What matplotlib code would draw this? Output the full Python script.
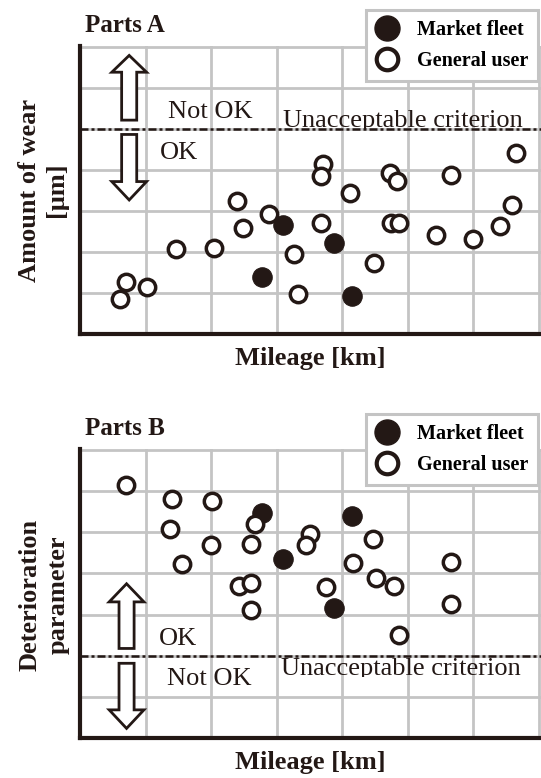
import matplotlib
matplotlib.use('Agg')
import matplotlib.pyplot as plt
from matplotlib.patches import FancyArrow
from matplotlib.lines import Line2D
from matplotlib.transforms import Bbox, TransformedBbox

plt.rcParams['font.family'] = ['Liberation Serif', 'DejaVu Serif']
INK = '#231815'
GRID = '#c4c4c4'

# ---------------- data ----------------
a_user_x = [0.705, 0.615, 1.02, 1.47, 2.05, 2.40, 2.48, 2.88, 3.26, 3.32, 3.70, 3.67, 3.67,
            4.12, 4.49, 4.72, 4.83, 4.75, 4.87, 5.43, 5.65, 6.00, 6.41, 6.59, 6.65]
a_user_y = [1.25, 0.85, 1.13, 2.07, 2.09, 3.23, 2.58, 2.92, 1.94, 0.97, 4.14, 3.84, 2.69,
            3.42, 1.71, 3.93, 3.73, 2.69, 2.71, 2.41, 3.88, 2.31, 2.62, 3.14, 4.40]
a_fleet_x = [3.10, 3.87, 2.77, 4.15]
a_fleet_y = [2.66, 2.20, 1.39, 0.91]

b_user_x = [0.705, 1.40, 2.01, 1.38, 2.00, 1.56, 2.67, 2.61, 2.43, 2.61, 2.61, 3.51, 3.45,
            3.75, 4.47, 4.17, 4.51, 4.79, 4.86, 5.66, 5.66]
b_user_y = [6.15, 5.81, 5.75, 5.07, 4.70, 4.22, 5.21, 4.72, 3.70, 3.77, 3.11, 4.95, 4.70,
            3.67, 4.83, 4.26, 3.89, 3.70, 2.50, 4.28, 3.27]
b_fleet_x = [2.77, 4.15, 3.10, 3.87]
b_fleet_y = [5.47, 5.39, 4.34, 3.17]

a_criterion = 5.0
b_criterion = 2.0
legend_labels = ['Market fleet', 'General user']

W, H = 541, 778
fig = plt.figure(figsize=(W / 100, H / 100), dpi=100)


def make_axes(top_px, bottom_px):
    ax = fig.add_axes([80 / W, 1 - bottom_px / H, 461 / W, (bottom_px - top_px) / H])
    ax.set_xlim(0, 7.03)
    ax.set_ylim(0, 7.02)
    ax.set_xticks(range(8))
    ax.set_yticks(range(8))
    ax.tick_params(length=0, labelbottom=False, labelleft=False)
    ax.grid(True, color=GRID, lw=2.0)
    ax.set_axisbelow(True)
    for s in ['top', 'right']:
        ax.spines[s].set_visible(False)
    for s in ['left', 'bottom']:
        ax.spines[s].set_linewidth(3)
        ax.spines[s].set_color(INK)
    return ax


def draw_points(ax, fx, fy, ux, uy):
    ax.plot(fx, fy, ls='none', marker='o', ms=14, mfc=INK, mec=INK, mew=0.8, zorder=3)
    ax.plot(ux, uy, ls='none', marker='o', ms=11.8, mfc='white', mec=INK, mew=2.5, zorder=4)


def draw_legend(ax, anchor_y_px):
    h1 = Line2D([], [], ls='none', marker='o', ms=18, mfc=INK, mec=INK, mew=1)
    h2 = Line2D([], [], ls='none', marker='o', ms=15.5, mfc='white', mec=INK, mew=3)
    leg = ax.legend([h1, h2], legend_labels, loc='upper right',
                    bbox_to_anchor=(538 / W, 1 - anchor_y_px / H),
                    bbox_transform=fig.transFigure, borderaxespad=0,
                    frameon=True, fancybox=False, edgecolor=GRID, framealpha=1,
                    prop={'weight': 'bold', 'size': 14.5}, handlelength=1.1,
                    handletextpad=0.9, borderpad=0.5, labelspacing=0.55)
    leg.get_frame().set_linewidth(2.2)
    leg.set_zorder(10)


def arrow(ax, x, y0, y1, hl):
    ax.add_patch(FancyArrow(x, y0, 0, y1 - y0, width=0.23, head_width=0.53, head_length=hl,
                            length_includes_head=True, fc='white', ec=INK, lw=2, zorder=5))


def clipped_text(ax, x, y, s, ylo, yhi):
    t = ax.text(x, y, s, fontsize=19, color=INK, ha='left', va='baseline', clip_on=True, zorder=6)
    t.set_clip_box(TransformedBbox(Bbox([[0, ylo], [7.03, yhi]]), ax.transData))
    return t


dash = (0, (3.2, 1.2, 1.2, 1.2))

# ---------------- Panel A ----------------
axA = make_axes(46, 333.5)
axA.axhline(a_criterion, color=INK, lw=1.8, ls=dash, zorder=2)
draw_points(axA, a_fleet_x, a_fleet_y, a_user_x, a_user_y)
arrow(axA, 0.75, 5.21, 6.79, 0.41)
arrow(axA, 0.75, 4.86, 3.26, 0.45)
axA.text(1.34, 5.27, 'Not OK', fontsize=19, color=INK, ha='left', va='baseline')
axA.text(1.22, 4.27, 'OK', fontsize=19, color=INK, ha='left', va='baseline')
clipped_text(axA, 3.09, 5.03, 'Unacceptable criterion', a_criterion, 7.02)
draw_legend(axA, 10)
fig.text(85 / W, 1 - 25 / H, 'Parts A', fontsize=18, fontweight='bold', color=INK,
         ha='left', va='center')
fig.text(43 / W, 1 - 190 / H, 'Amount of wear\n[μm]', rotation=90, ha='center', va='center',
         ma='center', fontsize=19, fontweight='bold', color=INK, linespacing=1.25)
fig.text(310 / W, 1 - 358 / H, 'Mileage [km]', ha='center', va='center',
         fontsize=19, fontweight='bold', color=INK)

# ---------------- Panel B ----------------
axB = make_axes(449, 738.3)
axB.axhline(b_criterion, color=INK, lw=1.8, ls=dash, zorder=2)
draw_points(axB, b_fleet_x, b_fleet_y, b_user_x, b_user_y)
arrow(axB, 0.71, 2.18, 3.75, 0.44)
arrow(axB, 0.71, 1.82, 0.24, 0.45)
axB.text(1.21, 2.26, 'OK', fontsize=19, color=INK, ha='left', va='baseline')
axB.text(1.33, 1.29, 'Not OK', fontsize=19, color=INK, ha='left', va='baseline')
clipped_text(axB, 3.07, 1.53, 'Unacceptable criterion', 1.49, b_criterion)
draw_legend(axB, 414)
fig.text(85 / W, 1 - 429 / H, 'Parts B', fontsize=18, fontweight='bold', color=INK,
         ha='left', va='center')
fig.text(44 / W, 1 - 595 / H, 'Deterioration\nparameter', rotation=90, ha='center', va='center',
         ma='center', fontsize=19, fontweight='bold', color=INK, linespacing=1.25)
fig.text(310 / W, 1 - 762 / H, 'Mileage [km]', ha='center', va='center',
         fontsize=19, fontweight='bold', color=INK)

fig.savefig('out.png', dpi=100)
